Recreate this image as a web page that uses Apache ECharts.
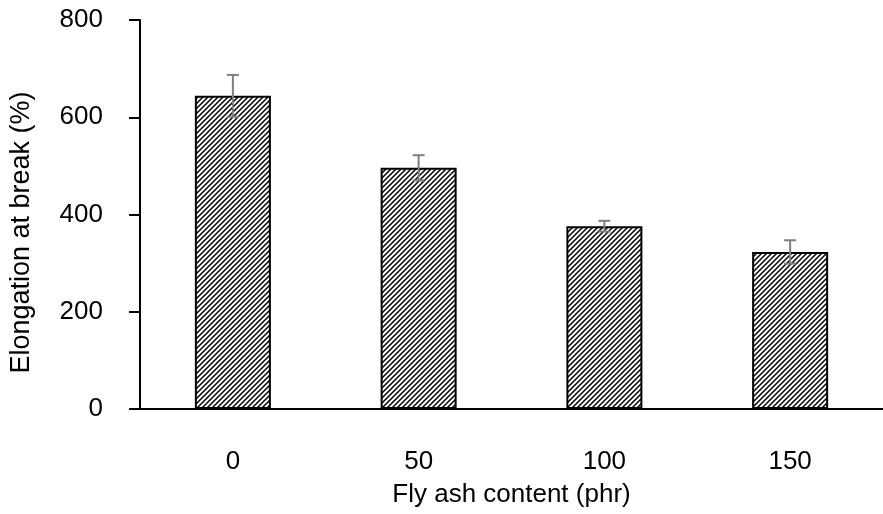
<!DOCTYPE html>
<html>
<head>
<meta charset="utf-8">
<script src="https://cdn.jsdelivr.net/npm/echarts@6/dist/echarts.min.js"></script>
<style>
html,body{margin:0;padding:0;background:#fff;}
#c{width:883px;height:514px;}
</style>
</head>
<body>
<div id="c"></div>
<script>
const categories = ['0', '50', '100', '150'];
const values = [644, 496, 376, 323];
const errors = [43, 26, 11, 24];
const yMin = 0, yMax = 800, yStep = 200;

function hatch() {
  const s = 5;
  const cv = document.createElement('canvas');
  cv.width = s; cv.height = s;
  const ctx = cv.getContext('2d');
  ctx.fillStyle = '#fff';
  ctx.fillRect(0, 0, s, s);
  ctx.strokeStyle = '#000';
  ctx.lineWidth = 1.5;
  ctx.beginPath();
  ctx.moveTo(-1, s + 1); ctx.lineTo(s + 1, -1);
  ctx.moveTo(-1, 1); ctx.lineTo(1, -1);
  ctx.moveTo(s - 1, s + 1); ctx.lineTo(s + 1, s - 1);
  ctx.stroke();
  return cv;
}

const font = 'Liberation Sans, Arial, sans-serif';
const fs = 26;
const chart = echarts.init(document.getElementById('c'));
chart.setOption({
  animation: false,
  backgroundColor: '#fff',
  grid: { left: 139, top: 20, width: 752, height: 389, containLabel: false },
  xAxis: {
    type: 'category',
    data: categories,
    name: 'Fly ash content (phr)',
    nameLocation: 'middle',
    nameGap: 73,
    nameTextStyle: { fontFamily: font, fontSize: fs, color: '#000' },
    axisLine: { lineStyle: { color: '#000', width: 2 } },
    axisTick: { alignWithLabel: true, length: 8, lineStyle: { color: '#000', width: 2 } },
    axisLabel: { fontFamily: font, fontSize: fs, color: '#000', margin: 40 },
    splitLine: { show: false }
  },
  yAxis: {
    type: 'value',
    min: yMin, max: yMax, interval: yStep,
    name: 'Elongation at break (%)',
    nameLocation: 'middle',
    nameGap: 105,
    nameTextStyle: { fontFamily: font, fontSize: 27, color: '#000', padding: [0, 36, 0, 0] },
    axisLine: { show: true, lineStyle: { color: '#000', width: 2 } },
    axisTick: { show: true, inside: false, length: 11, lineStyle: { color: '#000', width: 2 } },
    axisLabel: { fontFamily: font, fontSize: fs, color: '#000', margin: 37 },
    splitLine: { show: false }
  },
  series: [
    {
      type: 'bar',
      data: values,
      barWidth: 76,
      itemStyle: {
        color: { image: hatch(), repeat: 'repeat' },
        borderColor: '#000',
        borderWidth: 2
      },
      z: 2
    },
    {
      type: 'custom',
      z: 5,
      data: categories.map((c, i) => [i, values[i], errors[i]]),
      renderItem: function (params, api) {
        const x = api.value(0), v = api.value(1), e = api.value(2);
        const top = api.coord([x, v + e]);
        const bot = api.coord([x, v - e]);
        const hw = 6;
        const st = { stroke: '#7f7f7f', lineWidth: 2 };
        return {
          type: 'group',
          children: [
            { type: 'line', shape: { x1: top[0], y1: top[1], x2: bot[0], y2: bot[1] }, style: st },
            { type: 'line', shape: { x1: top[0] - hw, y1: top[1], x2: top[0] + hw, y2: top[1] }, style: st },
            { type: 'line', shape: { x1: bot[0] - hw, y1: bot[1], x2: bot[0] + hw, y2: bot[1] }, style: st }
          ]
        };
      }
    }
  ]
});
</script>
</body>
</html>
